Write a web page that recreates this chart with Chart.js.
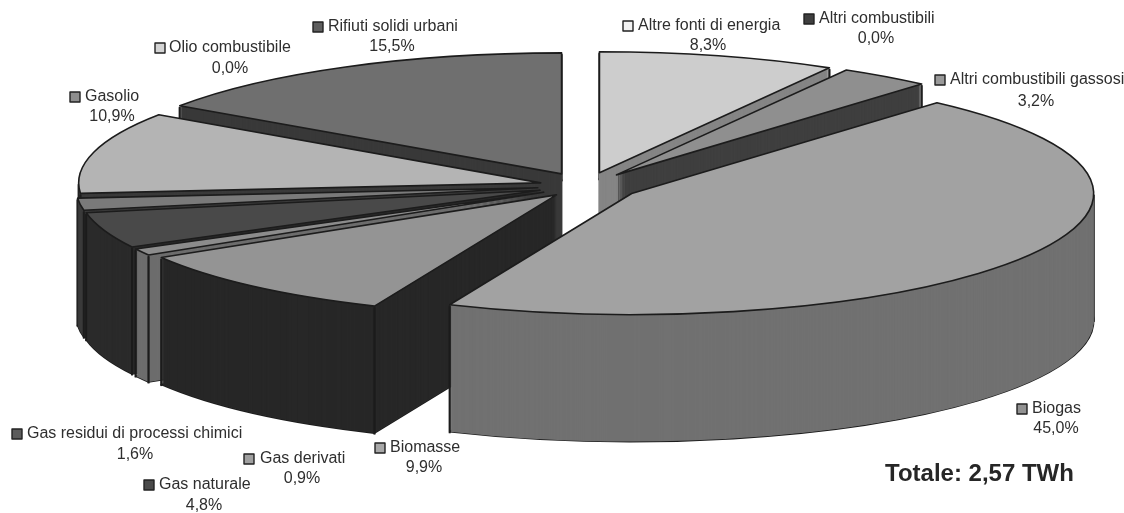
<!DOCTYPE html>
<html lang="it">
<head>
<meta charset="utf-8">
<title>Totale: 2,57 TWh</title>
<script src="https://cdn.jsdelivr.net/npm/chart.js@4/dist/chart.umd.min.js"></script>
<style>
    html, body { margin: 0; padding: 0; background: #fff; }
    canvas { display: block; }
</style>
</head>
<body>
<canvas id="pie" width="1124" height="513"></canvas>
<script>
// quote per fonte (%), in senso orario dalle ore 12
const categories = [
    'Altre fonti di energia', 'Altri combustibili', 'Altri combustibili gassosi', 'Biogas',
    'Biomasse', 'Gas derivati', 'Gas naturale', 'Gas residui di processi chimici',
    'Gasolio', 'Olio combustibile', 'Rifiuti solidi urbani'
];
const shares = [8.3, 0.0, 3.2, 45.0, 9.9, 0.9, 4.8, 1.6, 10.9, 0.0, 15.5];
const totalLabel = 'Totale: 2,57 TWh';

const topColors = ['#cdcdcd', '#4a4a4a', '#8f8f8f', '#a2a2a2', '#949494', '#8c8c8c', '#494949', '#7a7a7a', '#b4b4b4', '#dcdcdc', '#6f6f6f'];
const sideColors = ['#858585', '#3c3c3c', '#3f3f3f', '#717171', '#272727', '#6d6d6d', '#2a2a2a', '#3a3a3a', '#3a3a3a', '#8a8a8a', '#393939'];
const keyColors = ['#f2f2f2', '#3f3f3f', '#9a9a9a', '#929292', '#a8a8a8', '#a0a0a0', '#4a4a4a', '#5c5c5c', '#8e8e8e', '#d4d4d4', '#5e5e5e'];

// esplosione di ogni fetta, in unita' del grafico
const slicePull = [29, 29, 29, 30, 25, 27, 27, 27, 26, 29, 29];

// etichette: x del quadratino, x di inizio testo, x centro percentuale, y nome, y percentuale
const keyX = [623, 804, 935, 1017, 375, 244, 144, 12, 70, 155, 313];
const nameX = [638, 819, 950, 1032, 390, 260, 159, 27, 85, 169, 328];
const pctX = [708, 876, 1036, 1056, 424, 302, 204, 135, 112, 230, 392];
const nameY = [26, 19, 80, 409, 448, 459, 485, 434, 97, 48, 27];
const pctY = [46, 39, 102, 429, 468, 479, 506, 455, 117, 69, 47];

// proiezione della torta
const centerX = 586, centerY = 186;
const radiusX = 462, radiusY = 121;
const depth = 127;    // spessore in pixel

function placeSlice(ctx, el, drop) {
    const mid = (el.startAngle + el.endAngle) / 2;
    const pull = slicePull[el.$index];
    ctx.translate(centerX, centerY + drop);
    ctx.scale(radiusX / el.outerRadius, radiusY / el.outerRadius);
    ctx.translate(Math.cos(mid) * pull, Math.sin(mid) * pull);
    ctx.translate(-el.x, -el.y);
}

function drawFill(ctx, el, drop) {
    ctx.save();
    placeSlice(ctx, el, drop);
    el.draw(ctx);
    ctx.restore();
}

// il contorno va tracciato fuori dalla scala, altrimenti lo spessore si deforma
function strokeOutline(ctx, el, drop) {
    ctx.save();
    placeSlice(ctx, el, drop);
    ctx.beginPath();
    ctx.moveTo(el.x, el.y);
    ctx.arc(el.x, el.y, el.outerRadius, el.startAngle, el.endAngle);
    ctx.closePath();
    ctx.restore();
    ctx.strokeStyle = '#1c1c1c';
    ctx.lineWidth = 1.6;
    ctx.lineJoin = 'round';
    ctx.stroke();
}

// spigoli verticali: angoli della fetta e punti estremi del bordo
function edgeAngles(el) {
    const angles = [el.startAngle, el.endAngle];
    [0, Math.PI].forEach(a => {
        if (a > el.startAngle && a < el.endAngle) angles.push(a);
    });
    return angles;
}

function drawEdges(ctx, el, drop) {
    const mid = (el.startAngle + el.endAngle) / 2;
    const pull = slicePull[el.$index];
    const sx = radiusX / el.outerRadius, sy = radiusY / el.outerRadius;
    const baseX = centerX + Math.cos(mid) * pull * sx;
    const baseY = centerY + drop + Math.sin(mid) * pull * sy;
    ctx.fillStyle = '#1c1c1c';
    edgeAngles(el).forEach(a => {
        ctx.fillRect(baseX + Math.cos(a) * radiusX - 1, baseY + Math.sin(a) * radiusY, 2, 1.5);
    });
}

const pie3d = {
    id: 'pie3d',
    beforeDatasetsDraw(chart) {
        const ctx = chart.ctx;
        const all = chart.getDatasetMeta(0).data;
        all.forEach((el, i) => { el.$index = i; });
        const arcs = all.filter(el => el.circumference > 0);
        const tops = arcs.map(el => el.options);
        const sides = arcs.map(el => ({ ...el.options, backgroundColor: sideColors[el.$index] }));

        // pila di strati dal fondo verso l'alto
        arcs.forEach(el => { strokeOutline(ctx, el, depth); });
        for (let drop = depth; drop > 0; drop--) {
            arcs.forEach((el, i) => {
                el.options = sides[i];
                drawFill(ctx, el, drop);
                drawEdges(ctx, el, drop);
            });
        }
        arcs.forEach((el, i) => {
            el.options = tops[i];
            drawFill(ctx, el, 0);
            strokeOutline(ctx, el, 0);
        });
        return false;
    },
    afterDraw(chart) {
        const ctx = chart.ctx;
        ctx.save();
        ctx.textBaseline = 'middle';
        categories.forEach((name, i) => {
            ctx.fillStyle = keyColors[i];
            ctx.strokeStyle = '#222';
            ctx.lineWidth = 1.4;
            ctx.fillRect(keyX[i], nameY[i] - 5, 10, 10);
            ctx.strokeRect(keyX[i], nameY[i] - 5, 10, 10);

            ctx.fillStyle = '#2e2e2e';
            ctx.font = '16px "Liberation Sans", Arial, sans-serif';
            ctx.textAlign = 'left';
            ctx.fillText(name, nameX[i], nameY[i]);
            ctx.textAlign = 'center';
            ctx.fillText(shares[i].toFixed(1).replace('.', ',') + '%', pctX[i], pctY[i]);
        });
        ctx.fillStyle = '#262626';
        ctx.font = 'bold 24px "Liberation Sans", Arial, sans-serif';
        ctx.textAlign = 'left';
        ctx.fillText(totalLabel, 885, 474);
        ctx.restore();
    }
};

new Chart(document.getElementById('pie').getContext('2d'), {
    type: 'pie',
    data: {
        labels: categories,
        datasets: [{
            data: shares,
            backgroundColor: topColors,
            borderWidth: 0
        }]
    },
    options: {
        responsive: false,
        animation: false,
        layout: { padding: 0 },
        plugins: {
            legend: { display: false },
            tooltip: { enabled: false }
        }
    },
    plugins: [pie3d]
});
</script>
</body>
</html>
